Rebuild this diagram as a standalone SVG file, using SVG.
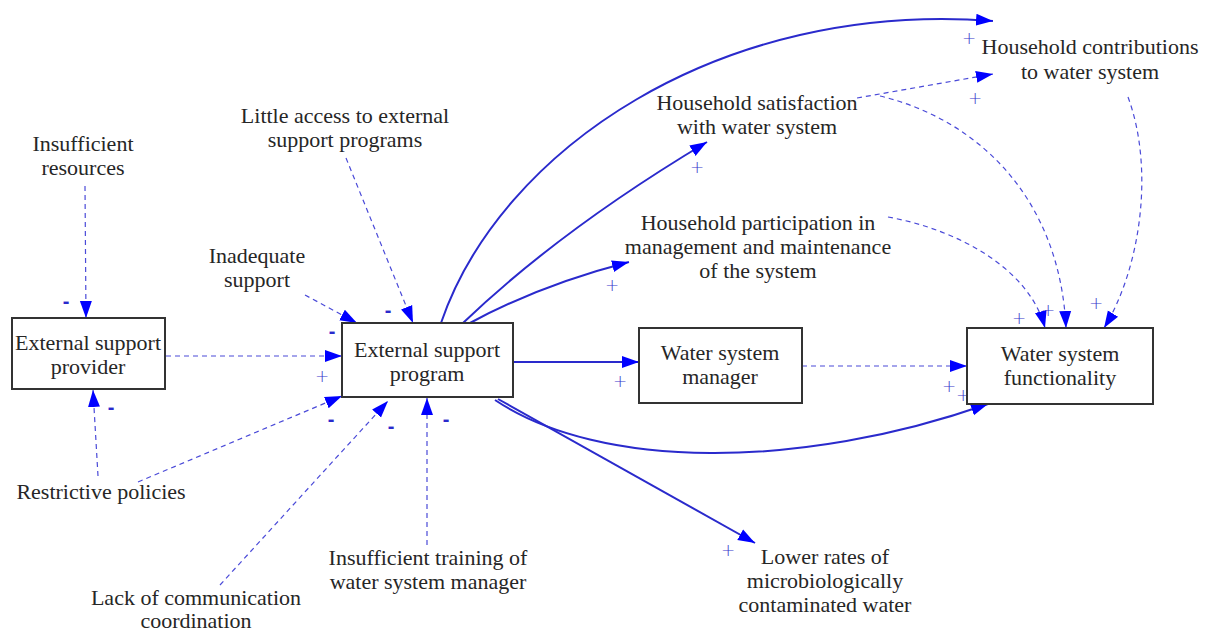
<svg xmlns="http://www.w3.org/2000/svg" width="1220" height="632" viewBox="0 0 1220 632">
<style>
  .lbl { font-family: "Liberation Serif", "Times New Roman", serif; font-size: 22px; fill: #262626; text-anchor: middle; }
  .box { fill: #fff; stroke: #333; stroke-width: 2; }
  .solid { fill: none; stroke: #2a2acc; stroke-width: 2; marker-end: url(#ah); }
  .dash { fill: none; stroke: #4a4ad8; stroke-width: 1.2; stroke-dasharray: 5 4; marker-end: url(#ah); }
  .pol { font-family: "DejaVu Sans", sans-serif; font-size: 17px; font-weight: 200; fill: #3a3acc; text-anchor: middle; }
  .neg { font-family: "Liberation Sans", Arial, sans-serif; font-size: 20px; font-weight: bold; fill: #2a2acc; text-anchor: middle; }
</style>
<defs>
  <marker id="ah" markerUnits="userSpaceOnUse" markerWidth="20" markerHeight="14" refX="17" refY="7" orient="auto">
    <path d="M0,1 L17,7 L0,13 Z" fill="#0000ff"/>
  </marker>
</defs>
<rect width="1220" height="632" fill="#fff"/>

<g id="connectors">
  <!-- dashed influences -->
  <path class="dash" d="M85,186 L86,318"/>
  <path class="dash" d="M98,476 L93,390"/>
  <path class="dash" d="M166,356 L342,356"/>
  <path class="dash" d="M305,295 L357,323"/>
  <path class="dash" d="M346,158 L413,323"/>
  <path class="dash" d="M138,482 L342,396"/>
  <path class="dash" d="M220,585 L388,401"/>
  <path class="dash" d="M427,545 L427,398"/>
  <path class="dash" d="M802,366 L967,366"/>
  <path class="dash" d="M857,98 L993,74"/>
  <path class="dash" d="M880,96 C980,120 1060,200 1066,328"/>
  <path class="dash" d="M888,217 C960,230 1030,270 1045,328"/>
  <path class="dash" d="M1128,97 C1155,170 1140,270 1104,328"/>
  <!-- solid influences -->
  <path class="solid" d="M513,362 L639,362"/>
  <path class="solid" d="M441,323 C500,150 720,0 993,21"/>
  <path class="solid" d="M463,323 Q560,230 707,142"/>
  <path class="solid" d="M470,323 Q540,285 629,262"/>
  <path class="solid" d="M495,400 C600,470 800,470 988,404"/>
  <path class="solid" d="M498,399 L755,543"/>
  <!-- polarities -->
  <text class="neg" x="66" y="308">-</text>
  <text class="neg" x="111" y="414">-</text>
  <text class="pol" x="322" y="382">+</text>
  <text class="neg" x="332" y="338">-</text>
  <text class="neg" x="388" y="317">-</text>
  <text class="neg" x="331" y="426">-</text>
  <text class="neg" x="391" y="433">-</text>
  <text class="neg" x="446" y="426">-</text>
  <text class="pol" x="620" y="387">+</text>
  <text class="pol" x="949" y="392">+</text>
  <text class="pol" x="963" y="401">+</text>
  <text class="pol" x="728" y="556">+</text>
  <text class="pol" x="612" y="291">+</text>
  <text class="pol" x="697" y="173">+</text>
  <text class="pol" x="969" y="44">+</text>
  <text class="pol" x="975" y="104">+</text>
  <text class="pol" x="1019" y="324">+</text>
  <text class="pol" x="1048" y="316">+</text>
  <text class="pol" x="1096" y="309">+</text>
</g>

<g id="provider">
  <rect class="box" x="12" y="318" width="153" height="71"/>
  <text class="lbl" x="88" y="350">External support</text>
  <text class="lbl" x="88" y="374">provider</text>
</g>
<g id="program">
  <rect class="box" x="342" y="323" width="171" height="74"/>
  <text class="lbl" x="427" y="357">External support</text>
  <text class="lbl" x="427" y="381">program</text>
</g>
<g id="manager">
  <rect class="box" x="639" y="328" width="163" height="75"/>
  <text class="lbl" x="720" y="360">Water system</text>
  <text class="lbl" x="720" y="384">manager</text>
</g>
<g id="functionality">
  <rect class="box" x="967" y="328" width="186" height="76"/>
  <text class="lbl" x="1060" y="361">Water system</text>
  <text class="lbl" x="1060" y="385">functionality</text>
</g>
<g id="insufficient-resources">
  <text class="lbl" x="83" y="151">Insufficient</text>
  <text class="lbl" x="83" y="175">resources</text>
</g>
<g id="little-access">
  <text class="lbl" x="345" y="123">Little access to external</text>
  <text class="lbl" x="345" y="147">support programs</text>
</g>
<g id="inadequate-support">
  <text class="lbl" x="257" y="263">Inadequate</text>
  <text class="lbl" x="257" y="287">support</text>
</g>
<g id="restrictive-policies">
  <text class="lbl" x="101" y="499">Restrictive policies</text>
</g>
<g id="lack-communication">
  <text class="lbl" x="196" y="605">Lack of communication</text>
  <text class="lbl" x="196" y="628">coordination</text>
</g>
<g id="insufficient-training">
  <text class="lbl" x="428" y="565">Insufficient training of</text>
  <text class="lbl" x="428" y="589">water system manager</text>
</g>
<g id="lower-rates">
  <text class="lbl" x="825" y="564">Lower rates of</text>
  <text class="lbl" x="825" y="588">microbiologically</text>
  <text class="lbl" x="825" y="612">contaminated water</text>
</g>
<g id="household-satisfaction">
  <text class="lbl" x="757" y="110">Household satisfaction</text>
  <text class="lbl" x="757" y="134">with water system</text>
</g>
<g id="household-participation">
  <text class="lbl" x="758" y="230">Household participation in</text>
  <text class="lbl" x="758" y="254">management and maintenance</text>
  <text class="lbl" x="758" y="278">of the system</text>
</g>
<g id="household-contributions">
  <text class="lbl" x="1090" y="54">Household contributions</text>
  <text class="lbl" x="1090" y="79">to water system</text>
</g>
</svg>
